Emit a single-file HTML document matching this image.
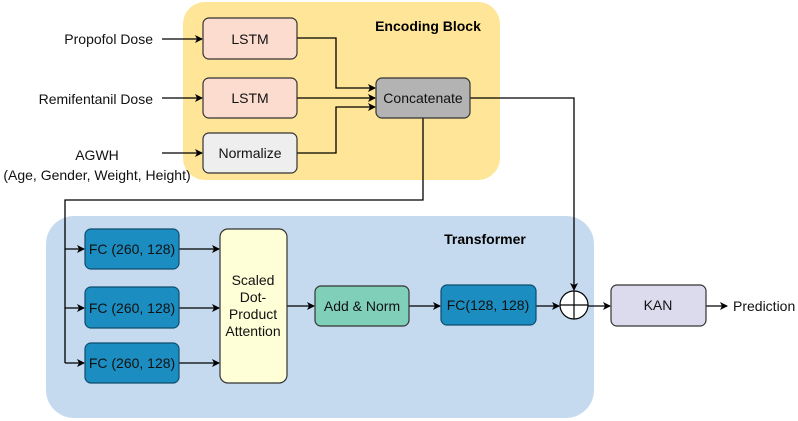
<!DOCTYPE html>
<html><head><style>body{margin:0;background:#fff}svg{display:block}</style></head><body>
<svg width="798" height="421" viewBox="0 0 798 421" xmlns="http://www.w3.org/2000/svg" font-family="Liberation Sans, Arial, sans-serif">
<defs><marker id="a" markerWidth="8" markerHeight="8" refX="7" refY="4" orient="auto" markerUnits="userSpaceOnUse"><path d="M0,0 L8,4 L0,8 L2,4 z" fill="#000"/></marker></defs>
<rect x="183" y="2" width="317" height="178" rx="22" fill="#fee597"/>
<rect x="46" y="216" width="548" height="202" rx="28" fill="#c5daee"/>
<text x="428" y="31" font-size="14" font-weight="bold" text-anchor="middle">Encoding Block</text>
<text x="485" y="244" font-size="14" font-weight="bold" text-anchor="middle">Transformer</text>
<g font-size="14" fill="#111">
<text x="153" y="44" text-anchor="end">Propofol Dose</text>
<text x="153" y="104" text-anchor="end">Remifentanil Dose</text>
<text x="97" y="160" text-anchor="middle">AGWH</text>
<text x="97" y="180" text-anchor="middle">(Age, Gender, Weight, Height)</text>
<text x="733" y="311">Prediction</text>
</g>
<g stroke="#000" stroke-width="1.3" fill="none">
<line x1="162" y1="39" x2="202" y2="39" marker-end="url(#a)"/>
<line x1="162" y1="98" x2="202" y2="98" marker-end="url(#a)"/>
<line x1="162" y1="153" x2="202" y2="153" marker-end="url(#a)"/>
<polyline points="297,38 336,38 336,88 375,88" marker-end="url(#a)"/>
<line x1="297" y1="98" x2="375" y2="98" marker-end="url(#a)"/>
<polyline points="297,153 336,153 336,107 375,107" marker-end="url(#a)"/>
<polyline points="423,118 423,200 65,200 65,363"/>
<line x1="65" y1="249" x2="84" y2="249" marker-end="url(#a)"/>
<line x1="65" y1="308" x2="84" y2="308" marker-end="url(#a)"/>
<line x1="65" y1="363" x2="84" y2="363" marker-end="url(#a)"/>
<line x1="179" y1="249" x2="219" y2="249" marker-end="url(#a)"/>
<line x1="179" y1="308" x2="219" y2="308" marker-end="url(#a)"/>
<line x1="179" y1="363" x2="219" y2="363" marker-end="url(#a)"/>
<line x1="287" y1="306" x2="314" y2="306" marker-end="url(#a)"/>
<line x1="409" y1="306" x2="440" y2="306" marker-end="url(#a)"/>
<line x1="536" y1="306" x2="559" y2="306" marker-end="url(#a)"/>
<polyline points="470,98 574,98 574,290" marker-end="url(#a)"/>
<line x1="588" y1="306" x2="610" y2="306" marker-end="url(#a)"/>
<line x1="706" y1="306" x2="727" y2="306" marker-end="url(#a)"/>
</g>
<g stroke="#333" stroke-width="1.2">
<rect x="203" y="18" width="94" height="41" rx="6" fill="#fddcd0"/>
<rect x="203" y="78" width="94" height="40" rx="6" fill="#fddcd0"/>
<rect x="203" y="133" width="94" height="40" rx="6" fill="#eeeeee"/>
<rect x="376" y="78" width="94" height="40" rx="6" fill="#b3b3b3"/>
<rect x="85" y="229" width="94" height="40" rx="6" fill="#1b8dc0" stroke="#0e4d6e"/>
<rect x="85" y="287" width="94" height="41" rx="6" fill="#1b8dc0" stroke="#0e4d6e"/>
<rect x="85" y="343" width="94" height="40" rx="6" fill="#1b8dc0" stroke="#0e4d6e"/>
<rect x="220" y="229" width="67" height="154" rx="8" fill="#fefed7"/>
<rect x="315" y="286" width="94" height="40" rx="6" fill="#80d0b9"/>
<rect x="441" y="285" width="95" height="40" rx="6" fill="#1b8dc0" stroke="#0e4d6e"/>
<rect x="611" y="285" width="95" height="41" rx="6" fill="#dcdbed"/>
<circle cx="574" cy="305" r="14" fill="#fff" stroke="#000"/>
</g>
<g stroke="#000" stroke-width="1.2"><line x1="560" y1="305" x2="588" y2="305"/><line x1="574" y1="291" x2="574" y2="319"/></g>
<g font-size="14" fill="#111" text-anchor="middle">
<text x="250" y="44">LSTM</text>
<text x="250" y="103">LSTM</text>
<text x="250" y="158">Normalize</text>
<text x="423" y="103">Concatenate</text>
<text x="132" y="254">FC (260, 128)</text>
<text x="132" y="313">FC (260, 128)</text>
<text x="132" y="368">FC (260, 128)</text>
<text x="253" y="285">Scaled</text>
<text x="253" y="302">Dot-</text>
<text x="253" y="319">Product</text>
<text x="253" y="336">Attention</text>
<text x="362" y="311">Add &amp; Norm</text>
<text x="488" y="310">FC(128, 128)</text>
<text x="658" y="310">KAN</text>
</g>
</svg>
</body></html>
